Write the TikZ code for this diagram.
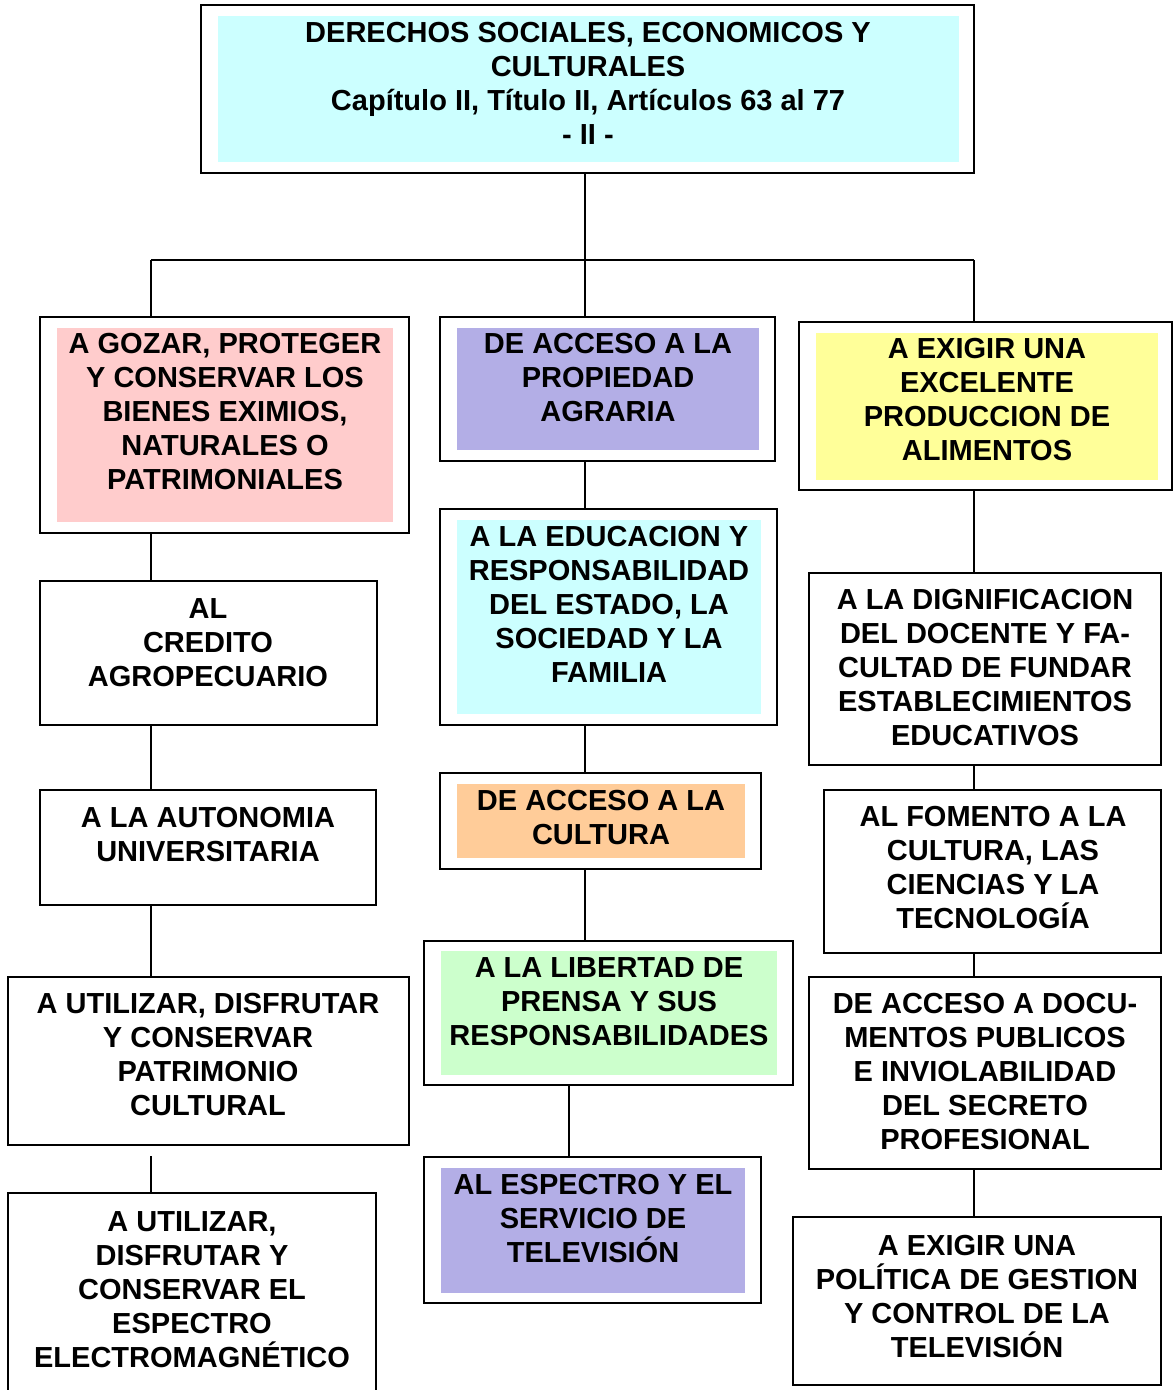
\documentclass[tikz,border=0pt]{standalone}
\usepackage{fontspec}
\setmainfont{Liberation Sans}
\usetikzlibrary{fit}
\definecolor{pinkc}{HTML}{FFCCCC}
\definecolor{lavc}{HTML}{B3AEE6}
\definecolor{cyanc}{HTML}{CCFFFF}
\definecolor{yelc}{HTML}{FFFF99}
\definecolor{orac}{HTML}{FFCC99}
\definecolor{grec}{HTML}{CCFFCC}
\tikzset{
  obox/.style={draw=black, line width=1pt, fill=white, inner sep=0pt},
  fbox/.style={inner sep=0pt, draw=none},
  txt/.style={align=center, inner sep=0pt, font=\fontsize{14.5}{17}\selectfont\bfseries},
  conn/.style={draw=black, line width=0.9pt}
}
\begin{document}
\begin{tikzpicture}[x=0.5pt,y=-0.5pt]
\useasboundingbox (0,0) rectangle (1173,1390);
\clip (0,0) rectangle (1173,1390);
\fill[white] (0,0) rectangle (1173,1390);
% column coordinates
\coordinate (bL) at (151,260);
\coordinate (bM) at (585,260);
\coordinate (bR) at (974,260);
\coordinate (cM2) at (569,260);
% title
\node[obox, fit={(201,5) (974,173)}] (top) {};
\node[fbox, fill=cyanc, fit={(218,16) (959,162)}] (topf) {};
\node[txt] (topt) at (588,83) {DERECHOS SOCIALES, ECONOMICOS Y\\CULTURALES\\Capítulo II, Título II, Artículos 63 al 77\\- II -};
% left column
\node[obox, fit={(40,317) (409,533)}] (l1) {};
\node[fbox, fill=pinkc, fit={(57,328) (393,522)}] (l1f) {};
\node[txt] (l1t) at (225,412) {A GOZAR, PROTEGER\\Y CONSERVAR LOS\\BIENES EXIMIOS,\\NATURALES O\\PATRIMONIALES};
\node[obox, fit={(40,581) (377,725)}] (l2) {};
\node[txt] (l2t) at (208,643) {AL\\CREDITO\\AGROPECUARIO};
\node[obox, fit={(40,790) (376,905)}] (l3) {};
\node[txt] (l3t) at (208,835) {A LA AUTONOMIA\\UNIVERSITARIA};
\node[obox, fit={(8,977) (409,1145)}] (l4) {};
\node[txt] (l4t) at (208,1055) {A UTILIZAR, DISFRUTAR\\Y CONSERVAR\\PATRIMONIO\\CULTURAL};
\node[obox, fit={(8,1193) (376,1400)}] (l5) {};
\node[txt] (l5t) at (192,1290) {A UTILIZAR,\\DISFRUTAR Y\\CONSERVAR EL\\ESPECTRO\\ELECTROMAGNÉTICO};
% middle column
\node[obox, fit={(440,317) (775,461)}] (m1) {};
\node[fbox, fill=lavc, fit={(457,328) (759,450)}] (m1f) {};
\node[txt] (m1t) at (608,378) {DE ACCESO A LA\\PROPIEDAD\\AGRARIA};
\node[obox, fit={(440,509) (777,725)}] (m2) {};
\node[fbox, fill=cyanc, fit={(457,520) (761,714)}] (m2f) {};
\node[txt] (m2t) at (609,604) {A LA EDUCACION Y\\RESPONSABILIDAD\\DEL ESTADO, LA\\SOCIEDAD Y LA\\FAMILIA};
\node[obox, fit={(440,773) (761,869)}] (m3) {};
\node[fbox, fill=orac, fit={(457,784) (745,858)}] (m3f) {};
\node[txt] (m3t) at (601,818) {DE ACCESO A LA\\CULTURA};
\node[obox, fit={(424,941) (793,1085)}] (m4) {};
\node[fbox, fill=grec, fit={(441,951) (777,1075)}] (m4f) {};
\node[txt] (m4t) at (609,1002) {A LA LIBERTAD DE\\PRENSA Y SUS\\RESPONSABILIDADES};
\node[obox, fit={(424,1157) (761,1303)}] (m5) {};
\node[fbox, fill=lavc, fit={(441,1168) (745,1293)}] (m5f) {};
\node[txt] (m5t) at (593,1219) {AL ESPECTRO Y EL\\SERVICIO DE\\TELEVISIÓN};
% right column
\node[obox, fit={(799,322) (1172,490)}] (r1) {};
\node[fbox, fill=yelc, fit={(816,333) (1158,480)}] (r1f) {};
\node[txt] (r1t) at (987,400) {A EXIGIR UNA\\EXCELENTE\\PRODUCCION DE\\ALIMENTOS};
\node[obox, fit={(809,573) (1161,765)}] (r2) {};
\node[txt] (r2t) at (985,668) {A LA DIGNIFICACION\\DEL DOCENTE Y FA-\\CULTAD DE FUNDAR\\ESTABLECIMIENTOS\\EDUCATIVOS};
\node[obox, fit={(824,790) (1161,953)}] (r3) {};
\node[txt] (r3t) at (993,868) {AL FOMENTO A LA\\CULTURA, LAS\\CIENCIAS Y LA\\TECNOLOGÍA};
\node[obox, fit={(809,977) (1161,1169)}] (r4) {};
\node[txt] (r4t) at (985,1072) {DE ACCESO A DOCU-\\MENTOS PUBLICOS\\E INVIOLABILIDAD\\DEL SECRETO\\PROFESIONAL};
\node[obox, fit={(793,1217) (1161,1385)}] (r5) {};
\node[txt] (r5t) at (977,1296) {A EXIGIR UNA\\POLÍTICA DE GESTION\\Y CONTROL DE LA\\TELEVISIÓN};
% connectors
\draw[conn] (bM |- top.south) -- (bM);
\draw[conn] (bL) -- (bR);
\draw[conn] (bL) -- (bL |- l1.north);
\draw[conn] (bM) -- (bM |- m1.north);
\draw[conn] (bR) -- (bR |- r1.north);
\draw[conn] (bL |- l1.south) -- (bL |- l2.north);
\draw[conn] (bL |- l2.south) -- (bL |- l3.north);
\draw[conn] (bL |- l3.south) -- (bL |- l4.north);
\draw[conn] ([yshift=-5pt]bL |- l4.south) -- (bL |- l5.north);
\draw[conn] (bM |- m1.south) -- (bM |- m2.north);
\draw[conn] (bM |- m2.south) -- (bM |- m3.north);
\draw[conn] (bM |- m3.south) -- (bM |- m4.north);
\draw[conn] (cM2 |- m4.south) -- (cM2 |- m5.north);
\draw[conn] (bR |- r1.south) -- (bR |- r2.north);
\draw[conn] (bR |- r2.south) -- (bR |- r3.north);
\draw[conn] (bR |- r3.south) -- (bR |- r4.north);
\draw[conn] (bR |- r4.south) -- (bR |- r5.north);
\end{tikzpicture}
\end{document}
